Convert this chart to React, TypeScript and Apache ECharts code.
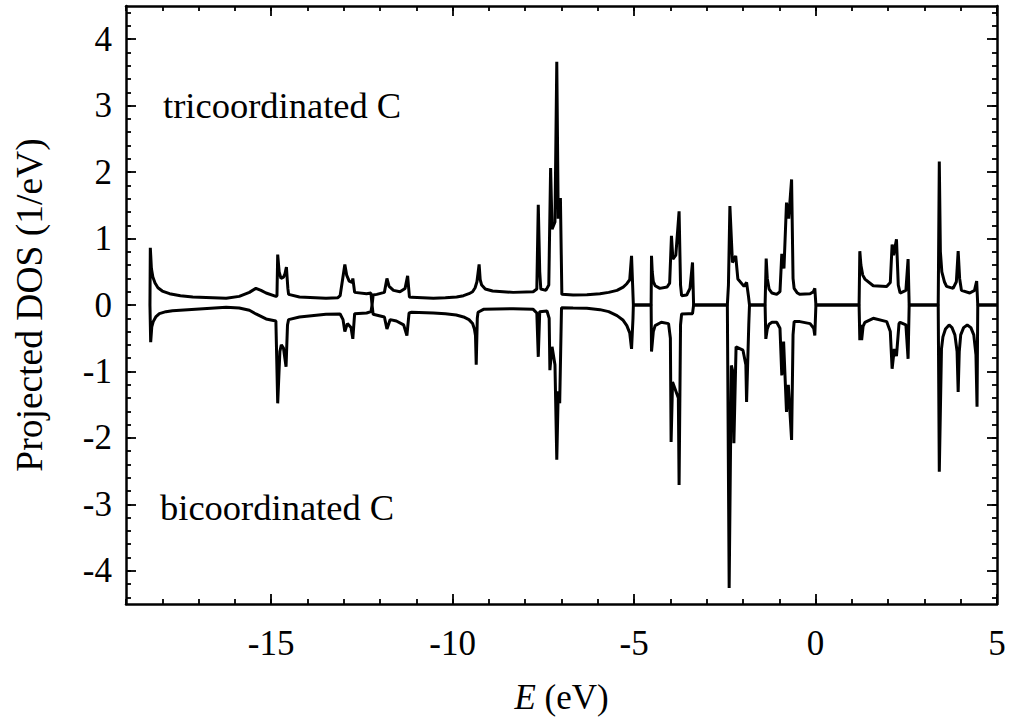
import React, { useEffect, useRef } from "react";
import * as echarts from "echarts";

// Tricoordinated C (upper curve): [energy (eV), projected DOS (1/eV)]
const triPoints: number[][] = [
  [-18.34, 0], [-18.33, 0.86], [-18.3, 0.55], [-18.26, 0.42], [-18.2, 0.33], [-18.12, 0.26], [-18.0, 0.21],
  [-17.8, 0.17], [-17.5, 0.14], [-17.16, 0.12], [-16.24, 0.1], [-15.88, 0.13], [-15.6, 0.19], [-15.42, 0.25],
  [-15.28, 0.22], [-15.14, 0.18], [-14.87, 0.13], [-14.84, 0.14], [-14.82, 0.76], [-14.78, 0.5], [-14.73, 0.4],
  [-14.66, 0.42], [-14.62, 0.47], [-14.58, 0.57], [-14.54, 0.25], [-14.52, 0.16], [-14.22, 0.12], [-13.49, 0.1],
  [-13.16, 0.11], [-13.1, 0.14], [-12.97, 0.61], [-12.92, 0.45], [-12.85, 0.36], [-12.77, 0.34], [-12.75, 0.4],
  [-12.7, 0.19], [-12.37, 0.17], [-12.25, 0.18], [-12.22, 0.0], [-12.19, 0.15], [-12.09, 0.16], [-11.88, 0.19],
  [-11.81, 0.4], [-11.75, 0.28], [-11.63, 0.22], [-11.45, 0.2], [-11.31, 0.25], [-11.24, 0.44], [-11.19, 0.12],
  [-11.13, 0.115], [-10.53, 0.1], [-10.2, 0.11], [-9.89, 0.12], [-9.7, 0.14], [-9.55, 0.17], [-9.45, 0.2],
  [-9.38, 0.26], [-9.33, 0.35], [-9.27, 0.61], [-9.24, 0.38], [-9.2, 0.3], [-9.1, 0.24], [-8.9, 0.21],
  [-8.33, 0.19], [-7.78, 0.2], [-7.68, 0.24], [-7.64, 1.51], [-7.6, 0.5], [-7.57, 0.24], [-7.43, 0.22],
  [-7.35, 0.3], [-7.3, 2.06], [-7.26, 1.14], [-7.18, 1.25], [-7.13, 3.66], [-7.09, 1.3], [-7.03, 1.61],
  [-6.99, 0.16], [-6.68, 0.15], [-6.3, 0.155], [-5.94, 0.17], [-5.7, 0.19], [-5.47, 0.22], [-5.3, 0.27],
  [-5.2, 0.32], [-5.12, 0.38], [-5.07, 0.74], [-5.04, 0.3], [-5.02, 0.0], [-4.53, 0.0], [-4.52, 0.74],
  [-4.5, 0.5], [-4.47, 0.35], [-4.42, 0.29], [-4.29, 0.25], [-4.09, 0.27], [-4.02, 0.33], [-3.97, 1.04],
  [-3.93, 0.69], [-3.85, 0.75], [-3.76, 1.41], [-3.72, 0.3], [-3.69, 0.14], [-3.55, 0.15], [-3.46, 0.25],
  [-3.39, 0.64], [-3.36, 0.0], [-2.43, 0.0], [-2.4, 0.3], [-2.36, 1.49], [-2.29, 0.64], [-2.2, 0.74],
  [-2.14, 0.39], [-1.97, 0.28], [-1.9, 0.34], [-1.85, 0.14], [-1.82, 0.0], [-1.39, 0.0], [-1.36, 0.7],
  [-1.33, 0.4], [-1.28, 0.24], [-1.2, 0.18], [-1.07, 0.16], [-0.98, 0.2], [-0.93, 0.77], [-0.87, 0.55],
  [-0.8, 1.54], [-0.74, 1.3], [-0.66, 1.89], [-0.62, 0.4], [-0.59, 0.25], [-0.5, 0.18], [-0.43, 0.16],
  [-0.15, 0.17], [-0.06, 0.2], [-0.02, 0.25], [0.01, 0.0], [1.2, 0.0], [1.22, 0.81], [1.25, 0.6],
  [1.3, 0.45], [1.36, 0.39], [1.59, 0.29], [1.96, 0.28], [2.06, 0.34], [2.11, 0.91], [2.15, 0.75],
  [2.23, 0.99], [2.28, 0.3], [2.33, 0.18], [2.49, 0.22], [2.55, 0.69], [2.58, 0.0], [3.38, 0.0],
  [3.41, 2.16], [3.44, 0.8], [3.48, 0.5], [3.55, 0.35], [3.61, 0.28], [3.79, 0.25], [3.88, 0.35],
  [3.93, 0.81], [3.97, 0.4], [4.02, 0.22], [4.25, 0.18], [4.38, 0.22], [4.44, 0.36], [4.47, 0.0], [5.0, 0.0],
];

// Bicoordinated C (lower curve, plotted negative): [energy (eV), projected DOS (1/eV)]
const biPoints: number[][] = [
  [-18.34, 0], [-18.32, -0.56], [-18.29, -0.33], [-18.25, -0.25], [-18.18, -0.18], [-18.08, -0.13],
  [-17.9, -0.1], [-17.72, -0.085], [-16.24, -0.035], [-15.88, -0.045], [-15.6, -0.08], [-15.42, -0.135],
  [-15.14, -0.21], [-14.87, -0.24], [-14.82, -1.48], [-14.76, -0.7], [-14.72, -0.6], [-14.66, -0.65],
  [-14.59, -0.93], [-14.55, -0.3], [-14.52, -0.22], [-14.22, -0.18], [-13.49, -0.14], [-13.1, -0.135],
  [-13.02, -0.22], [-12.97, -0.4], [-12.9, -0.28], [-12.8, -0.34], [-12.75, -0.51], [-12.7, -0.13],
  [-12.37, -0.12], [-12.25, -0.1], [-12.22, 0.0], [-12.19, -0.14], [-11.88, -0.18], [-11.81, -0.36],
  [-11.72, -0.22], [-11.55, -0.24], [-11.35, -0.3], [-11.26, -0.46], [-11.2, -0.12], [-11.13, -0.11],
  [-10.53, -0.12], [-10.2, -0.13], [-9.9, -0.15], [-9.7, -0.18], [-9.55, -0.22], [-9.45, -0.28],
  [-9.4, -0.36], [-9.37, -0.46], [-9.35, -0.9], [-9.32, -0.2], [-9.3, -0.11], [-9.15, -0.065],
  [-8.33, -0.055], [-7.78, -0.065], [-7.68, -0.12], [-7.64, -0.78], [-7.6, -0.1], [-7.4, -0.09],
  [-7.34, -0.2], [-7.32, -0.98], [-7.26, -0.63], [-7.18, -0.9], [-7.13, -2.33], [-7.09, -1.3],
  [-7.05, -1.48], [-7.0, -0.04], [-6.68, -0.045], [-6.3, -0.05], [-5.94, -0.07], [-5.7, -0.1],
  [-5.47, -0.16], [-5.3, -0.23], [-5.2, -0.31], [-5.12, -0.42], [-5.07, -0.66], [-5.03, -0.2],
  [-5.02, 0.0], [-4.53, 0.0], [-4.52, -0.7], [-4.47, -0.4], [-4.42, -0.31], [-4.25, -0.26], [-4.05, -0.28],
  [-4.0, -0.5], [-3.98, -2.06], [-3.94, -1.16], [-3.78, -1.4], [-3.76, -2.71], [-3.72, -0.3],
  [-3.69, -0.135], [-3.5, -0.13], [-3.39, -0.13], [-3.36, 0.0], [-2.43, 0.0], [-2.38, -4.26],
  [-2.32, -0.91], [-2.28, -1.0], [-2.25, -2.08], [-2.19, -0.63], [-2.0, -0.68], [-1.92, -0.9],
  [-1.9, -1.46], [-1.84, -0.3], [-1.82, 0.0], [-1.39, 0.0], [-1.37, -0.51], [-1.33, -0.36],
  [-1.28, -0.29], [-1.2, -0.26], [-1.07, -0.26], [-0.98, -0.35], [-0.93, -1.06], [-0.88, -0.55],
  [-0.8, -1.61], [-0.75, -1.2], [-0.66, -2.03], [-0.62, -0.45], [-0.59, -0.25], [-0.43, -0.25],
  [-0.15, -0.28], [-0.05, -0.35], [-0.02, -0.46], [0.01, 0.0], [1.2, 0.0], [1.22, -0.53], [1.25, -0.3],
  [1.27, -0.53], [1.31, -0.32], [1.36, -0.26], [1.59, -0.2], [1.96, -0.25], [2.06, -0.4], [2.11, -0.96],
  [2.17, -0.66], [2.23, -0.77], [2.3, -0.28], [2.33, -0.26], [2.49, -0.3], [2.55, -0.81], [2.58, 0.0],
  [3.38, 0.0], [3.41, -2.51], [3.47, -0.66], [3.51, -0.48], [3.58, -0.36], [3.68, -0.3], [3.76, -0.34],
  [3.84, -0.45], [3.9, -0.7], [3.93, -1.31], [3.96, -0.7], [4.0, -0.45], [4.08, -0.34], [4.18, -0.3],
  [4.28, -0.34], [4.36, -0.45], [4.42, -0.75], [4.45, -1.53], [4.47, 0.0], [5.0, 0.0],
];

const xMajorTicks = [-15, -10, -5, 0, 5];
const yMajorTicks = [-4, -3, -2, -1, 0, 1, 2, 3, 4];

const FONT = "Liberation Serif";

export default function App() {
  const ref = useRef<HTMLDivElement>(null);
  useEffect(() => {
    if (!ref.current) return;
    const chart = echarts.init(ref.current, undefined, { renderer: "svg" });

    const xMinor: number[] = [];
    for (let i = -19; i <= 5; i++) xMinor.push(i);
    const yMinor: number[] = [];
    for (let k = -22; k <= 22; k++) yMinor.push(Math.round(k * 2) / 10);

    const lineStyle = { color: "#000", width: 2.5 };
    const labelStyle = { fontFamily: FONT, fontSize: 35, color: "#000" };

    const xBase = (pos: string, major: boolean, showLine: boolean, showLabel: boolean) => ({
      type: "value",
      position: pos,
      min: -19,
      max: 5,
      axisLine: { show: showLine, onZero: false, lineStyle },
      axisTick: {
        show: true,
        inside: true,
        length: major ? 10 : 5,
        lineStyle: { color: "#000", width: 1.8 },
        customValues: major ? xMajorTicks : xMinor,
      },
      axisLabel: showLabel
        ? { show: true, customValues: xMajorTicks, margin: 22, ...labelStyle }
        : { show: false },
      splitLine: { show: false },
    });
    const yBase = (pos: string, major: boolean, showLine: boolean, showLabel: boolean) => ({
      type: "value",
      position: pos,
      min: -4.5,
      max: 4.5,
      axisLine: { show: showLine, onZero: false, lineStyle },
      axisTick: {
        show: true,
        inside: true,
        length: major ? 10 : 5,
        lineStyle: { color: "#000", width: 1.8 },
        customValues: major ? yMajorTicks : yMinor,
      },
      axisLabel: showLabel
        ? { show: true, customValues: yMajorTicks, margin: 14, ...labelStyle }
        : { show: false },
      splitLine: { show: false },
    });

    const x0: any = xBase("bottom", true, true, true);
    x0.name = "{i|E} (eV)";
    x0.nameLocation = "middle";
    x0.nameGap = 76;
    x0.nameTextStyle = {
      fontFamily: FONT,
      fontSize: 35,
      color: "#000",
      rich: { i: { fontFamily: FONT, fontSize: 35, fontStyle: "italic", color: "#000" } },
    };
    const y0: any = yBase("left", true, true, true);
    y0.name = "Projected DOS (1/eV)";
    y0.nameLocation = "middle";
    y0.nameGap = 78;
    y0.nameTextStyle = { fontFamily: FONT, fontSize: 37.5, color: "#000" };

    chart.setOption({
      animation: false,
      backgroundColor: "#fff",
      textStyle: { fontFamily: FONT },
      grid: { left: 126, right: 15, top: 6, bottom: 114, containLabel: false },
      xAxis: [
        x0,
        xBase("bottom", false, false, false),
        xBase("top", true, true, false),
        xBase("top", false, false, false),
      ],
      yAxis: [
        y0,
        yBase("left", false, false, false),
        yBase("right", true, true, false),
        yBase("right", false, false, false),
      ],
      series: [
        {
          name: "tricoordinated C",
          type: "line",
          xAxisIndex: 0,
          yAxisIndex: 0,
          data: triPoints,
          showSymbol: false,
          symbol: "none",
          lineStyle: { color: "#000", width: 3 },
          clip: true,
        },
        {
          name: "bicoordinated C",
          type: "line",
          xAxisIndex: 0,
          yAxisIndex: 0,
          data: biPoints,
          showSymbol: false,
          symbol: "none",
          lineStyle: { color: "#000", width: 3 },
          clip: true,
        },
      ],
      graphic: [
        {
          type: "text",
          x: 163,
          y: 105,
          style: {
            text: "tricoordinated C",
            font: `36.5px "${FONT}"`,
            fill: "#000",
            verticalAlign: "middle",
            align: "left",
          },
        },
        {
          type: "text",
          x: 160,
          y: 507,
          style: {
            text: "bicoordinated C",
            font: `36.5px "${FONT}"`,
            fill: "#000",
            verticalAlign: "middle",
            align: "left",
          },
        },
      ],
    });
    return () => chart.dispose();
  }, []);
  return (
    <div
      ref={ref}
      style={{ position: "fixed", left: 0, top: 0, width: 1012, height: 720, background: "#fff" }}
    />
  );
}
